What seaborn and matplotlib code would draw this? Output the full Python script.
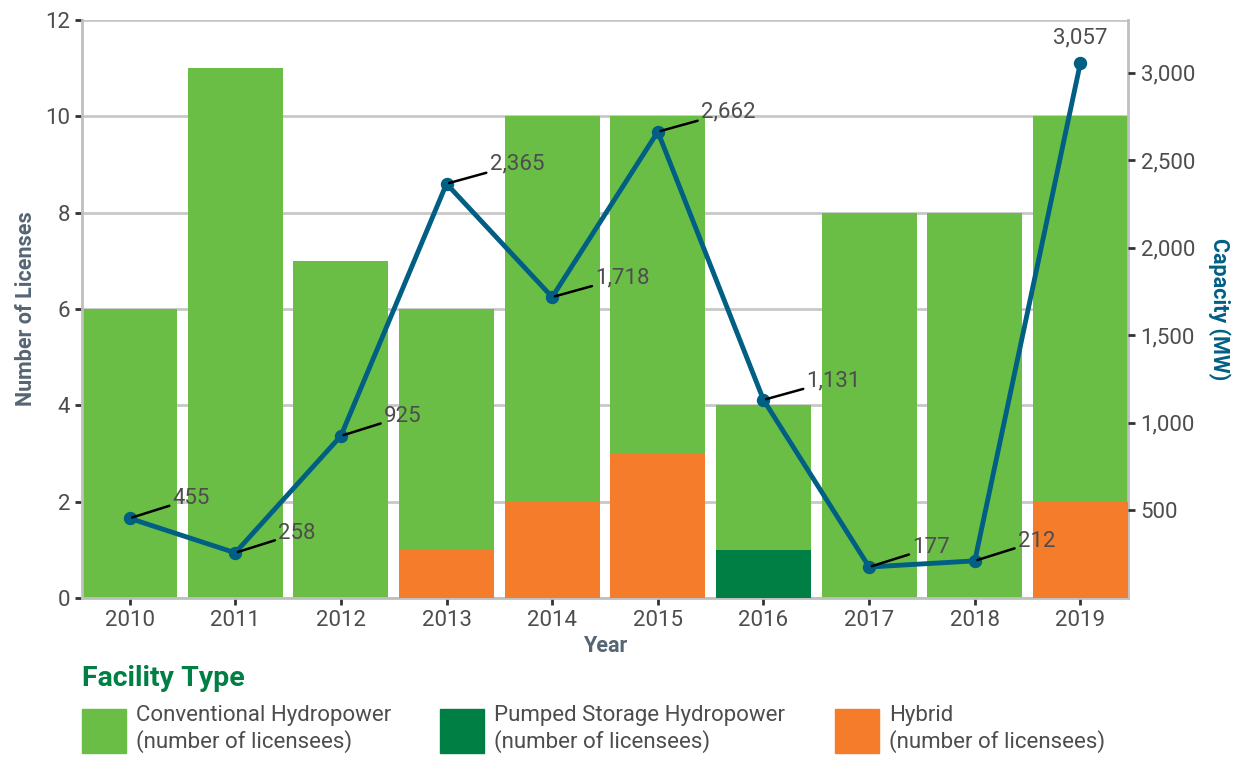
import numpy as np
import pandas as pd
import seaborn as sns
import matplotlib.pyplot as plt
from matplotlib.patches import Patch

years = ["2010", "2011", "2012", "2013", "2014", "2015", "2016", "2017", "2018", "2019"]
conventional = [6, 11, 7, 5, 8, 7, 3, 8, 8, 8]
pumped = [0, 0, 0, 0, 0, 0, 1, 0, 0, 0]
hybrid = [0, 0, 0, 1, 2, 3, 0, 0, 0, 2]
capacity = [455, 258, 925, 2365, 1718, 2662, 1131, 177, 212, 3057]
cap_ticks = [500, 1000, 1500, 2000, 2500, 3000]

c_conv = "#6bbe45"
c_pump = "#007f45"
c_hyb = "#f47c2a"
c_line = "#005f83"
c_text = "#4d4d4d"
c_grid = "#c8c8c8"

sns.set_theme(style="white")
plt.rcParams["font.family"] = ["Roboto", "DejaVu Sans"]

df = pd.DataFrame({"year": years, "conv": conventional, "pump": pumped,
                   "hyb": hybrid, "cap": capacity})
df["total"] = df["conv"] + df["pump"] + df["hyb"]
df["bottom"] = df["pump"] + df["hyb"]

fig = plt.figure(figsize=(12.41, 7.57), dpi=100)
ax = fig.add_axes([82 / 1241, 1 - 598 / 757, (1128 - 82) / 1241, (598 - 20) / 757])

# stacked bars drawn as layers: total, then lower segments on top
sns.barplot(data=df, x="year", y="total", color=c_conv, width=0.9, saturation=1,
            ax=ax, zorder=2)
sns.barplot(data=df, x="year", y="bottom", color=c_pump, width=0.9, saturation=1,
            ax=ax, zorder=3)
sns.barplot(data=df, x="year", y="hyb", color=c_hyb, width=0.9, saturation=1,
            ax=ax, zorder=4)
for p in ax.patches:
    p.set_linewidth(0)

ax.set_ylim(0, 12)
ax.set_yticks(range(0, 13, 2))
ax.yaxis.grid(True, color=c_grid, lw=2)
ax.set_axisbelow(True)
ax.set_xlim(-0.45, 9.45)
for s in ["left", "bottom", "right"]:
    ax.spines[s].set_color("#bfbfbf")
    ax.spines[s].set_linewidth(2)
ax.spines["top"].set_visible(False)
ax.tick_params(axis="both", labelsize=16, labelcolor=c_text, colors="#333333",
               length=5, width=2, direction="out", left=True, bottom=True)
ax.set_xlabel("Year", fontsize=15.5, fontweight="bold", color="#566573", labelpad=3)
ax.set_ylabel("Number of Licenses", fontsize=15.5, fontweight="bold", color="#566573",
              labelpad=6)

ax2 = ax.twinx()
sns.pointplot(data=df, x="year", y="cap", color=c_line, markers="o", markersize=7,
              linewidth=3.5, ax=ax2)
ax2.set_xlim(-0.45, 9.45)
ax2.set_ylim(0, 3300)
ax2.set_yticks(cap_ticks)
ax2.set_yticklabels([f"{v:,}" for v in cap_ticks])
for s in ax2.spines.values():
    s.set_visible(False)
ax2.tick_params(axis="y", labelsize=16, labelcolor=c_text, colors="#333333",
                length=5, width=2, right=True, pad=4)
ax2.set_ylabel("Capacity (MW)", fontsize=15.5, fontweight="bold", color=c_line,
               rotation=270, labelpad=26)
ax2.set_xlabel("")

for i, v in enumerate(capacity):
    if i == len(capacity) - 1:
        ax2.annotate(f"{v:,}", xy=(i, v), xytext=(0, 10), textcoords="offset points",
                     ha="center", va="bottom", fontsize=16, color=c_text)
    else:
        ax2.annotate(f"{v:,}", xy=(i, v), xytext=(31, 14), textcoords="offset points",
                     ha="left", va="center", fontsize=16, color=c_text,
                     arrowprops=dict(arrowstyle="-", color="black", lw=1.8,
                                     shrinkA=0, shrinkB=2))

fig.text(82 / 1241, 1 - 678 / 757, "Facility Type", fontsize=20.5, fontweight="bold",
         color=c_pump, ha="left", va="center")

legend_items = [
    (c_conv, "Conventional Hydropower\n(number of licensees)", 82),
    (c_pump, "Pumped Storage Hydropower\n(number of licensees)", 440),
    (c_hyb, "Hybrid\n(number of licensees)", 835),
]
for col, lab, xp in legend_items:
    leg = fig.legend(handles=[Patch(color=col, label=lab)], loc="upper left",
                     bbox_to_anchor=(xp / 1241, 1 - 705 / 757), frameon=False,
                     fontsize=16, handlelength=2.0, handleheight=2.67,
                     handletextpad=0.45, borderpad=0, borderaxespad=0)
    for t in leg.get_texts():
        t.set_color(c_text)
        t.set_linespacing(1.25)

fig.savefig("out.png", dpi=100)
